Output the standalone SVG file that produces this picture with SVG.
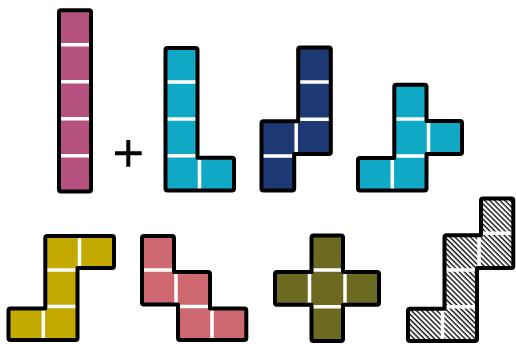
<svg xmlns="http://www.w3.org/2000/svg" width="516" height="344" viewBox="0 0 516 344">
<style>
.o{stroke:#000;stroke-width:4;stroke-linejoin:round;fill:none}
.d{stroke:#fff;stroke-width:3.5;fill:none}
</style>
<defs>
<pattern id="hatch" patternUnits="userSpaceOnUse" width="10" height="3.6" patternTransform="rotate(45)">
<rect width="10" height="3.6" fill="#fff"/>
<rect width="10" height="1.3" fill="#000"/>
</pattern>
<path id="s-i" d="M61,10.3H89Q91,10.3 91,12.3V189.5Q91,191.5 89,191.5H61Q59,191.5 59,189.5V12.3Q59,10.3 61,10.3Z"/>
<path id="s-l" d="M167.5,48H195.5Q197.5,48 197.5,50V157.7H232Q234,157.7 234,159.7V188.5Q234,190.5 232,190.5H167.5Q165.5,190.5 165.5,188.5V50Q165.5,48 167.5,48Z"/>
<path id="s-navy" d="M300.2,47.5H328.8Q330.8,47.5 330.8,49.5V152Q330.8,154 328.8,154H294.2V188.5Q294.2,190.5 292.2,190.5H263.5Q261.5,190.5 261.5,188.5V123.3Q261.5,121.3 263.5,121.3H298.2V49.5Q298.2,47.5 300.2,47.5Z"/>
<path id="s-c2" d="M396.3,84.7H424.5Q426.5,84.7 426.5,86.7V121H460Q462,121 462,123V152Q462,154 460,154H426.5V188.5Q426.5,190.5 424.5,190.5H360Q358,190.5 358,188.5V160Q358,158 360,158H394.3V86.7Q394.3,84.7 396.3,84.7Z"/>
<path id="s-y" d="M47.3,236H112Q114,236 114,238V266Q114,268 112,268H77.5V338Q77.5,340 75.5,340H10.5Q8.5,340 8.5,338V310.5Q8.5,308.5 10.5,308.5H45.3V238Q45.3,236 47.3,236Z"/>
<path id="s-s" d="M144,236H172Q174,236 174,238V272H208Q210,272 210,274V308.5H244.3Q246.3,308.5 246.3,310.5V338Q246.3,340 244.3,340H180Q178,340 178,338V304.5H144Q142,304.5 142,302.5V238Q142,236 144,236Z"/>
<path id="s-o" d="M313.5,235.5H341Q343,235.5 343,237.5V272H377Q379,272 379,274V302.7Q379,304.7 377,304.7H343V339Q343,341 341,341H313.5Q311.5,341 311.5,339V304.7H277Q275,304.7 275,302.7V274Q275,272 277,272H311.5V237.5Q311.5,235.5 313.5,235.5Z"/>
<path id="s-h" d="M483,198.5H511.3Q513.3,198.5 513.3,200.5V266Q513.3,268 511.3,268H477V339Q477,341 475,341H410Q408,341 408,339V310.7Q408,308.7 410,308.7H444.5V237.3Q444.5,235.3 446.5,235.3H481V200.5Q481,198.5 483,198.5Z"/>
</defs>
<rect width="516" height="344" fill="#fff"/>

<g id="piece-i">
<use href="#s-i" fill="#b4517e"/>
<path class="d" d="M57,44.7H93M57,81.7H93M57,118.7H93M57,155.7H93"/>
<use href="#s-i" class="o"/>
</g>

<g id="plus">
<path d="M115,153.3H141.7M128.3,140V166.7" stroke="#000" stroke-width="4" fill="none"/>
</g>

<g id="piece-l">
<use href="#s-l" fill="#10a9c5"/>
<path class="d" d="M163.5,82H199.5M163.5,119H199.5M163.5,155.7H199.5M199.5,155.7V192.5"/>
<use href="#s-l" class="o"/>
</g>

<g id="piece-navy">
<use href="#s-navy" fill="#1d3974"/>
<path class="d" d="M296.2,82H332.8M296.2,119.3H332.8M296.2,119.3V156M259.5,156H296.2"/>
<use href="#s-navy" class="o"/>
</g>

<g id="piece-cyan2">
<use href="#s-c2" fill="#10a9c5"/>
<path class="d" d="M392.3,119H428.5M428.5,119V156M392.3,156H428.5M392.3,156V192.5"/>
<use href="#s-c2" class="o"/>
</g>

<g id="piece-yellow">
<use href="#s-y" fill="#c4a900"/>
<path class="d" d="M79.5,234V270M43.3,270H79.5M43.3,306.5H79.5M43.3,306.5V342"/>
<use href="#s-y" class="o"/>
</g>

<g id="piece-salmon">
<use href="#s-s" fill="#cd6870"/>
<path class="d" d="M140,270H176M176,270V306.5M176,306.5H212M212,306.5V342"/>
<use href="#s-s" class="o"/>
</g>

<g id="piece-olive">
<use href="#s-o" fill="#6c6a20"/>
<path class="d" d="M309.5,270H345M309.5,306.7H345M309.5,270V306.7M345,270V306.7"/>
<use href="#s-o" class="o"/>
</g>

<g id="piece-hatched">
<use href="#s-h" fill="url(#hatch)"/>
<path class="d" d="M479,233.3H515.3M479,233.3V270M442.5,270H479M442.5,306.7H479M442.5,306.7V343"/>
<use href="#s-h" class="o"/>
</g>
</svg>
